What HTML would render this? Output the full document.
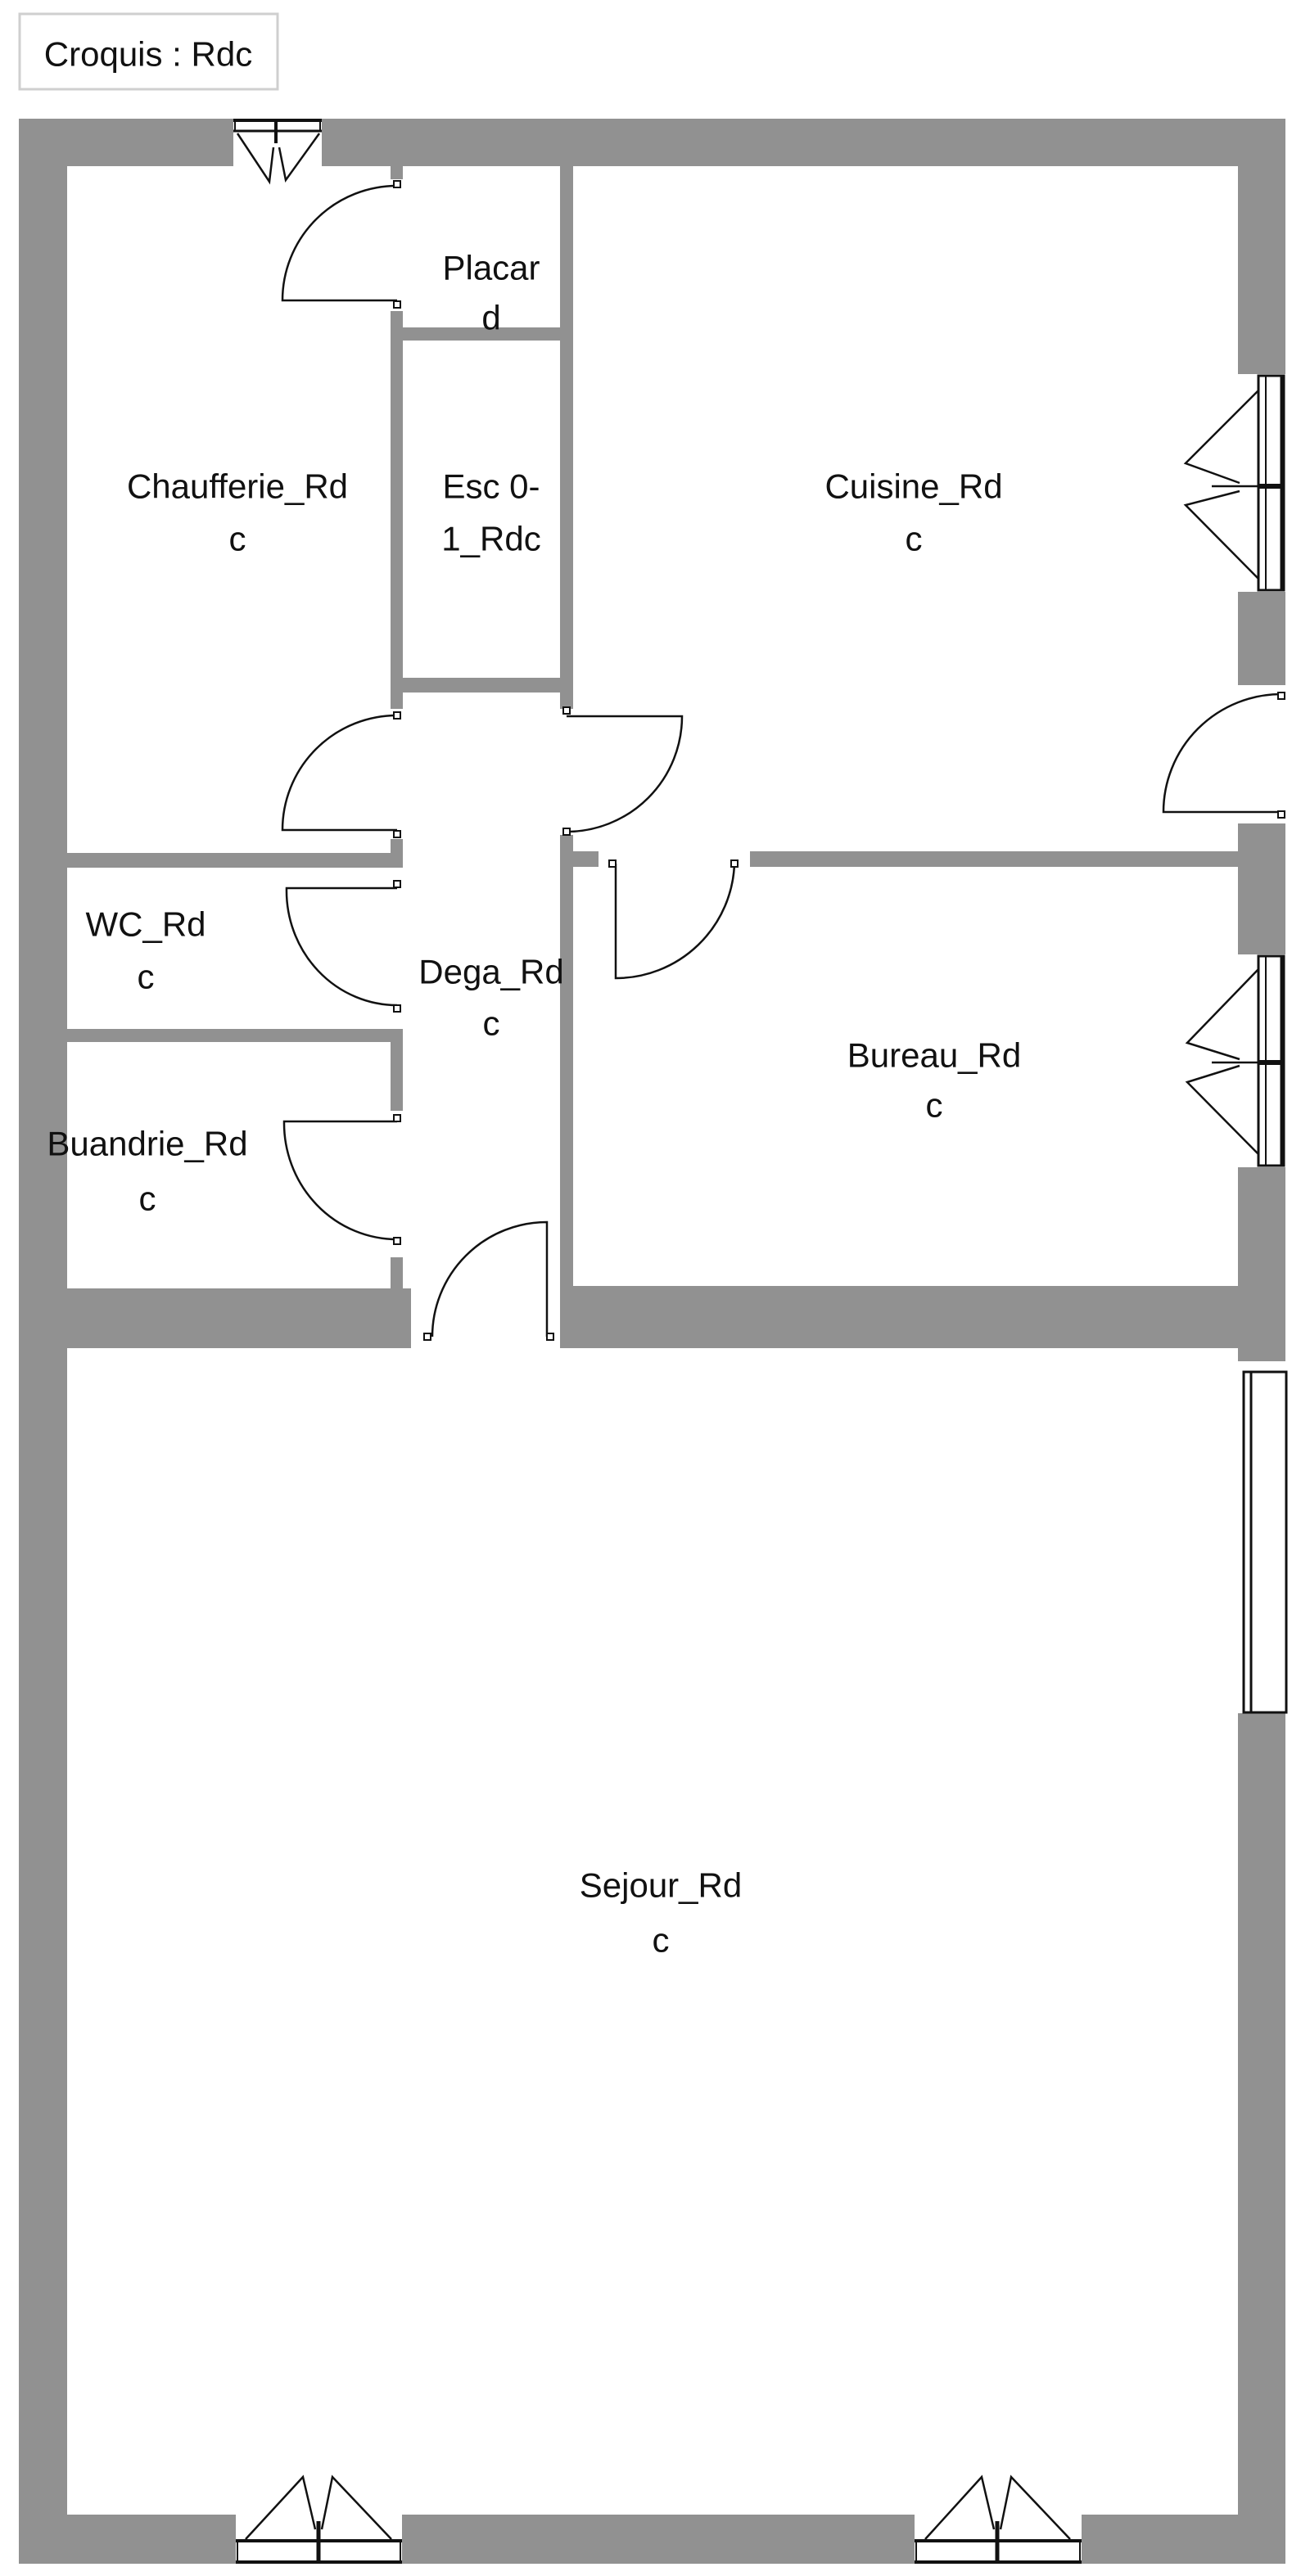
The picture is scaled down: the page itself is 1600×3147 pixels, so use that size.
<!DOCTYPE html>
<html><head><meta charset="utf-8"><style>
html,body{margin:0;padding:0;background:#fff;}
svg{display:block;}
text{font-family:"Liberation Sans",sans-serif;font-size:42px;fill:#111;text-anchor:middle;dominant-baseline:central;}
</style></head><body>
<svg width="1600" height="3147" viewBox="0 0 1600 3147" xmlns="http://www.w3.org/2000/svg">
<rect x="0" y="0" width="1600" height="3147" fill="#fff"/>
<!-- title -->
<rect x="24" y="17" width="315" height="92" fill="#fff" stroke="#cfcfcf" stroke-width="3"/>
<text x="181" y="66">Croquis : Rdc</text>

<g fill="#919191">
<!-- outer walls -->
<rect x="23" y="145" width="262" height="58"/>
<rect x="393" y="145" width="1177" height="58"/>
<rect x="23" y="145" width="59" height="2987"/>
<rect x="1512" y="145" width="58" height="312"/>
<rect x="1512" y="723" width="58" height="114"/>
<rect x="1512" y="1006" width="58" height="160"/>
<rect x="1512" y="1426" width="58" height="237"/>
<rect x="1512" y="2093" width="58" height="1039"/>
<rect x="23" y="3072" width="265" height="60"/>
<rect x="491" y="3072" width="626" height="60"/>
<rect x="1321" y="3072" width="249" height="60"/>
<!-- interior -->
<rect x="477" y="203" width="15" height="16"/>
<rect x="477" y="380" width="15" height="486"/>
<rect x="684" y="203" width="16" height="663"/>
<rect x="684" y="1020" width="16" height="627"/>
<rect x="492" y="400" width="192" height="16"/>
<rect x="492" y="828" width="192" height="18"/>
<rect x="82" y="1042" width="410" height="18"/>
<rect x="477" y="1025" width="15" height="35"/>
<rect x="82" y="1257" width="410" height="16"/>
<rect x="477" y="1257" width="15" height="100"/>
<rect x="477" y="1536" width="15" height="40"/>
<rect x="82" y="1574" width="420" height="73"/>
<rect x="686" y="1571" width="826" height="76"/>
<rect x="700" y="1040" width="31" height="19"/>
<rect x="916" y="1040" width="596" height="19"/>
</g>

<g fill="none" stroke="#111" stroke-width="2.5">
<!-- doors -->
<path d="M485,367 L345,367 A140,140 0 0 1 485,227"/>
<path d="M485,1014 L345,1014 A140,140 0 0 1 485,874"/>
<path d="M692,875 L833,875 A141,141 0 0 1 692,1016"/>
<path d="M1565,992 L1421,992 A144,144 0 0 1 1565,848"/>
<path d="M752,1055 L752,1195 A145,145 0 0 0 897,1055"/>
<path d="M485,1085 L350,1085 A135,140 0 0 0 485,1228"/>
<path d="M485,1370 L347,1370 A138,142 0 0 0 485,1514"/>
<path d="M668,1633 L668,1493 A140,140 0 0 0 528,1633"/>
</g>
<g fill="#fff" stroke="#111" stroke-width="2">
<rect x="481" y="221" width="8" height="8"/>
<rect x="481" y="368" width="8" height="8"/>
<rect x="481" y="870" width="8" height="8"/>
<rect x="481" y="1015" width="8" height="8"/>
<rect x="688" y="864" width="8" height="8"/>
<rect x="688" y="1012" width="8" height="8"/>
<rect x="1561" y="846" width="8" height="8"/>
<rect x="1561" y="991" width="8" height="8"/>
<rect x="744" y="1051" width="8" height="8"/>
<rect x="893" y="1051" width="8" height="8"/>
<rect x="481" y="1076" width="8" height="8"/>
<rect x="481" y="1228" width="8" height="8"/>
<rect x="481" y="1362" width="8" height="8"/>
<rect x="481" y="1512" width="8" height="8"/>
<rect x="518" y="1629" width="8" height="8"/>
<rect x="668" y="1629" width="8" height="8"/>
</g>

<!-- windows -->
<g fill="none" stroke="#111">
<!-- top -->
<line x1="285" y1="147" x2="393" y2="147" stroke-width="4"/>
<line x1="285" y1="160" x2="393" y2="160" stroke-width="3"/>
<line x1="287" y1="147" x2="287" y2="160" stroke-width="2"/>
<line x1="391" y1="147" x2="391" y2="160" stroke-width="2"/>
<line x1="337" y1="147" x2="337" y2="175" stroke-width="4"/>
<path d="M290,163 L329,222 L334,180 M390,163 L349,220 L341,180" stroke-width="2.5"/>
<!-- cuisine -->
<rect x="1537" y="459" width="31" height="262" stroke-width="3"/>
<line x1="1566" y1="459" x2="1566" y2="721" stroke-width="5"/>
<line x1="1546" y1="459" x2="1546" y2="721" stroke-width="2"/>
<line x1="1537" y1="594" x2="1568" y2="594" stroke-width="6"/>
<path d="M1537,477 L1448,566 L1514,590 M1537,707 L1448,617 L1514,600 M1480,594 L1537,594" stroke-width="2.5"/>
<!-- bureau -->
<rect x="1537" y="1168" width="31" height="256" stroke-width="3"/>
<line x1="1566" y1="1168" x2="1566" y2="1424" stroke-width="5"/>
<line x1="1546" y1="1168" x2="1546" y2="1424" stroke-width="2"/>
<line x1="1537" y1="1298" x2="1568" y2="1298" stroke-width="6"/>
<path d="M1537,1184 L1450,1274 L1514,1294 M1537,1410 L1450,1322 L1514,1302 M1480,1298 L1537,1298" stroke-width="2.5"/>
<!-- sejour right -->
<rect x="1519" y="1676" width="52" height="416" stroke-width="3"/>
<line x1="1528" y1="1676" x2="1528" y2="2092" stroke-width="3"/>
<!-- bottom left -->
<line x1="288" y1="3104" x2="491" y2="3104" stroke-width="4"/>
<line x1="288" y1="3130" x2="491" y2="3130" stroke-width="4"/>
<line x1="290" y1="3104" x2="290" y2="3130" stroke-width="2"/>
<line x1="489" y1="3104" x2="489" y2="3130" stroke-width="2"/>
<line x1="389" y1="3080" x2="389" y2="3130" stroke-width="5"/>
<path d="M300,3102 L370,3026 L385,3090 M478,3102 L406,3026 L393,3090" stroke-width="2.5"/>
<!-- bottom right -->
<line x1="1117" y1="3104" x2="1321" y2="3104" stroke-width="4"/>
<line x1="1117" y1="3130" x2="1321" y2="3130" stroke-width="4"/>
<line x1="1119" y1="3104" x2="1119" y2="3130" stroke-width="2"/>
<line x1="1319" y1="3104" x2="1319" y2="3130" stroke-width="2"/>
<line x1="1218" y1="3080" x2="1218" y2="3130" stroke-width="5"/>
<path d="M1130,3102 L1199,3026 L1214,3090 M1307,3102 L1235,3026 L1222,3090" stroke-width="2.5"/>
</g>

<!-- labels -->
<text x="600" y="327">Placar</text>
<text x="600" y="388">d</text>
<text x="290" y="594">Chaufferie_Rd</text>
<text x="290" y="658">c</text>
<text x="600" y="594">Esc 0-</text>
<text x="600" y="658">1_Rdc</text>
<text x="1116" y="594">Cuisine_Rd</text>
<text x="1116" y="658">c</text>
<text x="178" y="1129">WC_Rd</text>
<text x="178" y="1193">c</text>
<text x="600" y="1187">Dega_Rd</text>
<text x="600" y="1250">c</text>
<text x="180" y="1397">Buandrie_Rd</text>
<text x="180" y="1464">c</text>
<text x="1141" y="1289">Bureau_Rd</text>
<text x="1141" y="1350">c</text>
<text x="807" y="2303">Sejour_Rd</text>
<text x="807" y="2370">c</text>
</svg>
</body></html>
